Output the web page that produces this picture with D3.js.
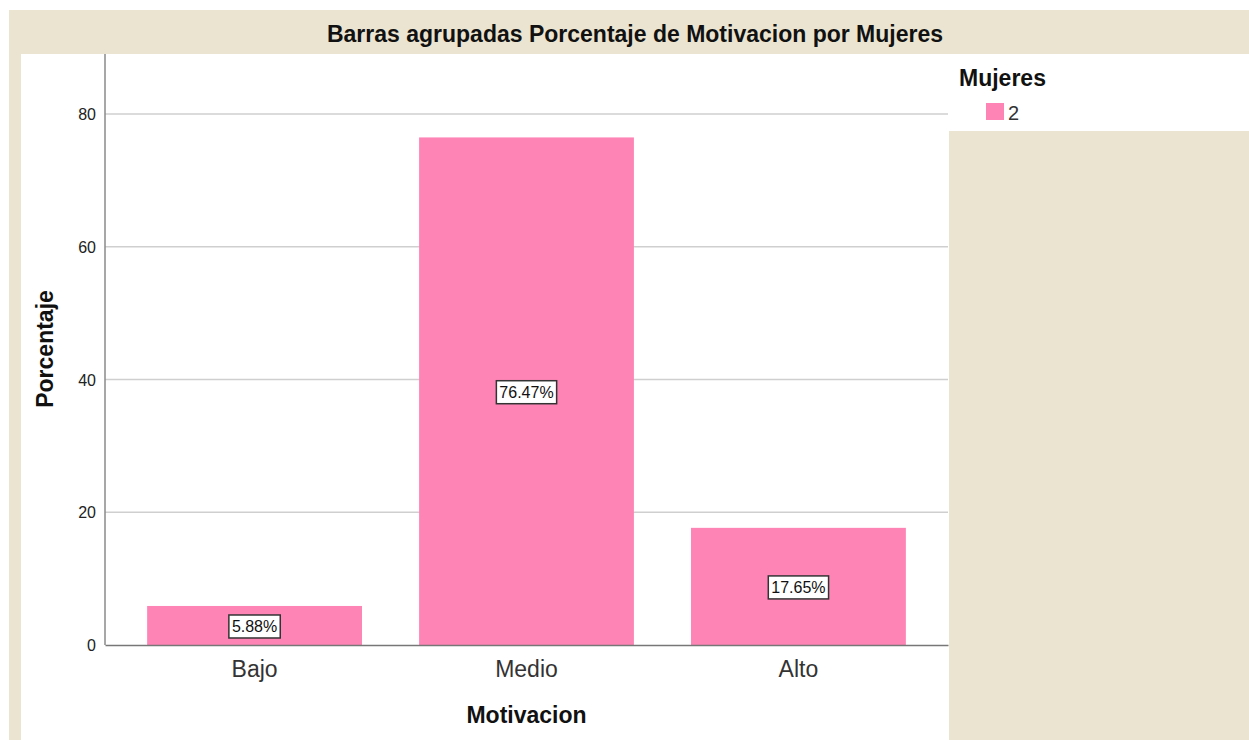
<!DOCTYPE html>
<html>
<head>
<meta charset="utf-8">
<script src="https://cdn.jsdelivr.net/npm/d3@7"></script>
<style>
  body { margin: 0; background: #fff; }
  text { font-family: "Liberation Sans", Arial, sans-serif; }
</style>
</head>
<body>
<svg id="vis"></svg>
<script>
// Data
var categories = ["Bajo", "Medio", "Alto"];
var percentages = [5.88, 76.47, 17.65];
var yTicks = [0, 20, 40, 60, 80];
var legendItems = ["2"];

var W = 1249, H = 740;
var plot = {left: 105, right: 948, top: 54, bottom: 645};
var pink = "#fe84b6";

var svg = d3.select("svg#vis")
	.attr("width", W)
	.attr("height", H);

// Background panels
svg.append("rect").attr("x", 9).attr("y", 10).attr("width", W - 9).attr("height", H - 10).attr("fill", "#ebe4d0");
svg.append("rect").attr("x", 21).attr("y", 54).attr("width", 928).attr("height", H - 54).attr("fill", "#ffffff");
svg.append("rect").attr("x", 949).attr("y", 54).attr("width", W - 949).attr("height", 77).attr("fill", "#ffffff");

// Title
svg.append("text")
	.text("Barras agrupadas Porcentaje de Motivacion por Mujeres")
	.attr("x", 635).attr("y", 42)
	.attr("text-anchor", "middle")
	.style("font-size", "23px").style("font-weight", "bold").attr("fill", "#111");

// Scales
var xScale = d3.scaleBand()
	.domain(categories)
	.range([plot.left, plot.right])
	.paddingInner(0.21)
	.paddingOuter(0.155);

var yScale = d3.scaleLinear()
	.domain([0, 80])
	.range([plot.bottom, 114]);

// Gridlines
svg.selectAll("line.grid").data(yTicks.filter(function(d) {return d > 0;}))
	.enter().append("line")
	.attr("class", "grid")
	.attr("x1", plot.left).attr("x2", plot.right)
	.attr("y1", function(d) {return yScale(d);})
	.attr("y2", function(d) {return yScale(d);})
	.attr("stroke", "#cfcfcf").attr("stroke-width", 1.5);

// Y axis
var yAxis = svg.append("g")
	.attr("transform", "translate(" + plot.left + ",0)")
	.call(d3.axisLeft(yScale).tickValues(yTicks).tickSize(0).tickPadding(9));
yAxis.select(".domain").remove();
yAxis.selectAll("text").style("font-size", "16px").attr("fill", "#222").attr("dy", "0.35em");
svg.append("line")
	.attr("x1", plot.left).attr("x2", plot.left)
	.attr("y1", plot.top).attr("y2", plot.bottom)
	.attr("stroke", "#8a8a8a").attr("stroke-width", 1.5);

// Bars
var bars = svg.selectAll("g.bar").data(categories.map(function(c, i) {return {cat: c, val: percentages[i]};}))
	.enter().append("g").attr("class", "bar");

bars.append("rect")
	.attr("x", function(d) {return xScale(d.cat);})
	.attr("y", function(d) {return yScale(d.val);})
	.attr("width", xScale.bandwidth())
	.attr("height", function(d) {return yScale(0) - yScale(d.val);})
	.attr("fill", pink);

// X axis
var xAxis = svg.append("g")
	.attr("transform", "translate(0," + plot.bottom + ")")
	.call(d3.axisBottom(xScale).tickSize(0));
xAxis.select(".domain").attr("stroke", "#777").attr("stroke-width", 1.5);
xAxis.selectAll("text").attr("dy", null).attr("y", 32)
	.style("font-size", "23px").attr("fill", "#333");

// Value labels
bars.each(function(d) {
	var g = d3.select(this);
	var cx = xScale(d.cat) + xScale.bandwidth() / 2;
	var cy = (yScale(d.val) + yScale(0)) / 2 + 1;
	var t = g.append("text")
		.text(d.val.toFixed(2) + "%")
		.attr("x", cx).attr("y", cy)
		.attr("text-anchor", "middle")
		.attr("dominant-baseline", "central")
		.style("font-size", "16px").attr("fill", "#111");
	var bb = t.node().getBBox();
	g.insert("rect", "text")
		.attr("x", bb.x - 3).attr("y", bb.y - 3)
		.attr("width", bb.width + 6).attr("height", bb.height + 6)
		.attr("fill", "#fff").attr("stroke", "#333").attr("stroke-width", 1.5);
});

// Axis titles
svg.append("text")
	.text("Motivacion")
	.attr("x", (plot.left + plot.right) / 2).attr("y", 723)
	.attr("text-anchor", "middle")
	.style("font-size", "23px").style("font-weight", "bold").attr("fill", "#111");

svg.append("text")
	.text("Porcentaje")
	.attr("transform", "translate(53,349) rotate(-90)")
	.attr("text-anchor", "middle")
	.style("font-size", "23px").style("font-weight", "bold").attr("fill", "#111");

// Legend
svg.append("text")
	.text("Mujeres")
	.attr("x", 959).attr("y", 86)
	.style("font-size", "23px").style("font-weight", "bold").attr("fill", "#111");

var legend = svg.selectAll("g.legend").data(legendItems)
	.enter().append("g").attr("class", "legend")
	.attr("transform", function(d, i) {return "translate(986," + (103 + i * 24) + ")";});
legend.append("rect").attr("width", 18).attr("height", 17).attr("fill", pink);
legend.append("text").text(function(d) {return d;})
	.attr("x", 22).attr("y", 17)
	.style("font-size", "20px").attr("fill", "#333");
</script>
</body>
</html>
